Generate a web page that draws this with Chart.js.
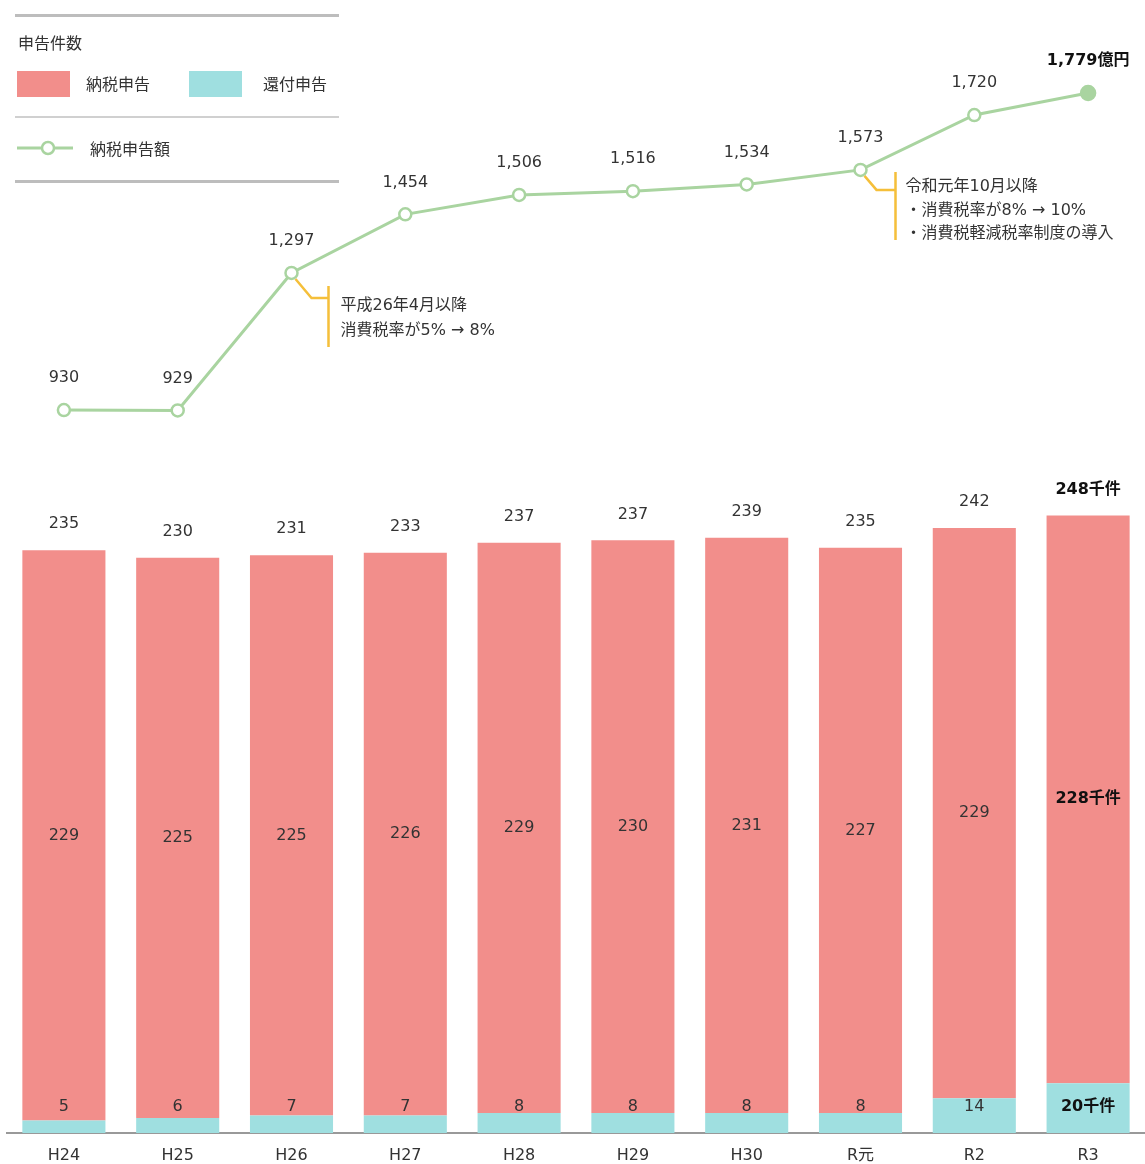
<!DOCTYPE html>
<html lang="ja">
<head>
<meta charset="utf-8">
<script src="https://cdn.jsdelivr.net/npm/chart.js@4/dist/chart.umd.min.js"></script>
<style>
  html, body { margin: 0; padding: 0; background: #fff; }
  body { font-family: "Noto Sans CJK JP", "Noto Sans", sans-serif; color: #333; }
  #wrap { position: relative; width: 1145px; height: 1164px; }
  #legend { position: absolute; left: 15px; top: 0; width: 324px; font-size: 16px; }
  #legend .rule { position: absolute; left: 0; width: 324px; height: 3px; background: #bdbdbd; }
  #legend .rule.thin { height: 2px; background: #d0d0d0; }
  #legend .txt { position: absolute; white-space: nowrap; line-height: 1; }
  #legend .box { position: absolute; width: 53px; height: 26px; }
</style>
</head>
<body>
<div id="wrap">
  <canvas id="chart" width="1145" height="1164"></canvas>
  <div id="legend">
    <div class="rule" style="top:14px"></div>
    <div class="txt" style="left:3px;top:34px">申告件数</div>
    <div class="box" style="left:2px;top:71px;background:#f28e8b"></div>
    <div class="txt" style="left:71px;top:75px">納税申告</div>
    <div class="box" style="left:174px;top:71px;background:#9fdfe0"></div>
    <div class="txt" style="left:248px;top:75px">還付申告</div>
    <div class="rule thin" style="top:116px"></div>
    <svg style="position:absolute;left:2px;top:138px" width="60" height="20">
      <line x1="0" y1="10" x2="56" y2="10" stroke="#a9d4a0" stroke-width="3"/>
      <circle cx="31" cy="10" r="6" fill="#fff" stroke="#a9d4a0" stroke-width="2.5"/>
    </svg>
    <div class="txt" style="left:75px;top:140px">納税申告額</div>
    <div class="rule" style="top:180px"></div>
  </div>
</div>
<script>
// 年度
const years = ['H24', 'H25', 'H26', 'H27', 'H28', 'H29', 'H30', 'R元', 'R2', 'R3'];
// 申告件数（千件）
const kanpu = [5, 6, 7, 7, 8, 8, 8, 8, 14, 20];
const nozei = [229, 225, 225, 226, 229, 230, 231, 227, 229, 228];
const totals = [235, 230, 231, 233, 237, 237, 239, 235, 242, 248];
// 納税申告額（億円）
const nozeiGaku = [930, 929, 1297, 1454, 1506, 1516, 1534, 1573, 1720, 1779];

const RED = '#f28e8b';
const TEAL = '#9fdfe0';
const GREEN = '#a9d4a0';
const YELLOW = '#f5bf3a';
const FONT = '"DejaVu Sans", "Noto Sans CJK JP", sans-serif';

function fmt(v) {
  return v.toLocaleString('en-US');
}

// ラベル描画
const labelPlugin = {
  id: 'labels',
  afterDatasetsDraw(chart) {
    const ctx = chart.ctx;
    const last = years.length - 1;
    const xScale = chart.scales.x;
    const baseY = chart.scales.yBar.getPixelForValue(0);
    const redMeta = chart.getDatasetMeta(1);
    const lineMeta = chart.getDatasetMeta(2);
    ctx.save();
    ctx.textAlign = 'center';
    ctx.textBaseline = 'middle';
    years.forEach((y, i) => {
      const bold = i === last;
      const x = xScale.getPixelForValue(i);
      // 年度ラベル
      ctx.font = '16px ' + FONT;
      ctx.fillStyle = '#333';
      ctx.fillText(y, x, baseY + 23);

      ctx.font = (bold ? 'bold ' : '') + '16px ' + FONT;
      ctx.fillStyle = bold ? '#111' : '#333';
      // 合計
      ctx.fillText(fmt(totals[i]) + (bold ? '千件' : ''), x, redMeta.data[i].y - 26);
      // 納税申告
      const mid = (redMeta.data[i].y + redMeta.data[i].base) / 2;
      ctx.fillText(fmt(nozei[i]) + (bold ? '千件' : ''), x, mid);
      // 還付申告
      ctx.fillText(fmt(kanpu[i]) + (bold ? '千件' : ''), x, baseY - 26);
      // 納税申告額
      const p = lineMeta.data[i];
      ctx.fillText(fmt(nozeiGaku[i]) + (bold ? '億円' : ''), p.x, p.y - 32);
    });
    ctx.restore();
  }
};

// 税率改正の注記
const notePlugin = {
  id: 'notes',
  afterDatasetsDraw(chart) {
    const ctx = chart.ctx;
    const pts = chart.getDatasetMeta(2).data;
    ctx.save();
    ctx.strokeStyle = YELLOW;
    ctx.lineWidth = 2.5;
    ctx.fillStyle = '#333';
    ctx.font = '16px ' + FONT;
    ctx.textAlign = 'left';
    ctx.textBaseline = 'middle';

    // H26
    let p = pts[2];
    ctx.beginPath();
    ctx.moveTo(p.x + 4, p.y + 6);
    ctx.lineTo(p.x + 20, p.y + 25);
    ctx.lineTo(p.x + 37, p.y + 25);
    ctx.moveTo(p.x + 37, p.y + 13);
    ctx.lineTo(p.x + 37, p.y + 74);
    ctx.stroke();
    ctx.fillText('平成26年4月以降', p.x + 49, p.y + 33);
    ctx.fillText('消費税率が5% → 8%', p.x + 49, p.y + 58);

    // R元
    p = pts[7];
    ctx.beginPath();
    ctx.moveTo(p.x + 4, p.y + 6);
    ctx.lineTo(p.x + 16, p.y + 20);
    ctx.lineTo(p.x + 35, p.y + 20);
    ctx.moveTo(p.x + 35, p.y + 2);
    ctx.lineTo(p.x + 35, p.y + 70);
    ctx.stroke();
    ctx.fillText('令和元年10月以降', p.x + 45, p.y + 17);
    ctx.fillText('・消費税率が8% → 10%', p.x + 45, p.y + 41);
    ctx.fillText('・消費税軽減税率制度の導入', p.x + 45, p.y + 64);
    ctx.restore();
  }
};

const pointFill = nozeiGaku.map((v, i) => i === nozeiGaku.length - 1 ? GREEN : '#fff');
const pointRadius = nozeiGaku.map((v, i) => i === nozeiGaku.length - 1 ? 7 : 6);

new Chart(document.getElementById('chart'), {
  type: 'bar',
  data: {
    labels: years,
    datasets: [
      {
        label: '還付申告',
        data: kanpu,
        backgroundColor: TEAL,
        yAxisID: 'yBar',
        stack: 's',
        barPercentage: 0.73,
        categoryPercentage: 1,
        order: 2
      },
      {
        label: '納税申告',
        data: nozei,
        backgroundColor: RED,
        yAxisID: 'yBar',
        stack: 's',
        barPercentage: 0.73,
        categoryPercentage: 1,
        order: 2
      },
      {
        type: 'line',
        label: '納税申告額',
        data: nozeiGaku,
        yAxisID: 'yLine',
        borderColor: GREEN,
        borderWidth: 3,
        tension: 0,
        pointRadius: pointRadius,
        pointBackgroundColor: pointFill,
        pointBorderColor: GREEN,
        pointBorderWidth: 2.5,
        clip: false,
        order: 1
      }
    ]
  },
  options: {
    responsive: false,
    animation: false,
    layout: { autoPadding: false, padding: { left: 7, right: 0, top: 0, bottom: 31 } },
    plugins: {
      legend: { display: false },
      tooltip: { enabled: false }
    },
    scales: {
      x: {
        stacked: true,
        grid: { display: false, drawTicks: false },
        border: { display: true, color: '#999', width: 2 },
        ticks: { display: false }
      },
      yBar: {
        stacked: true,
        display: false,
        min: 0,
        max: 455
      },
      yLine: {
        display: false,
        min: -1006,
        max: 2028
      }
    }
  },
  plugins: [labelPlugin, notePlugin]
});
</script>
</body>
</html>
